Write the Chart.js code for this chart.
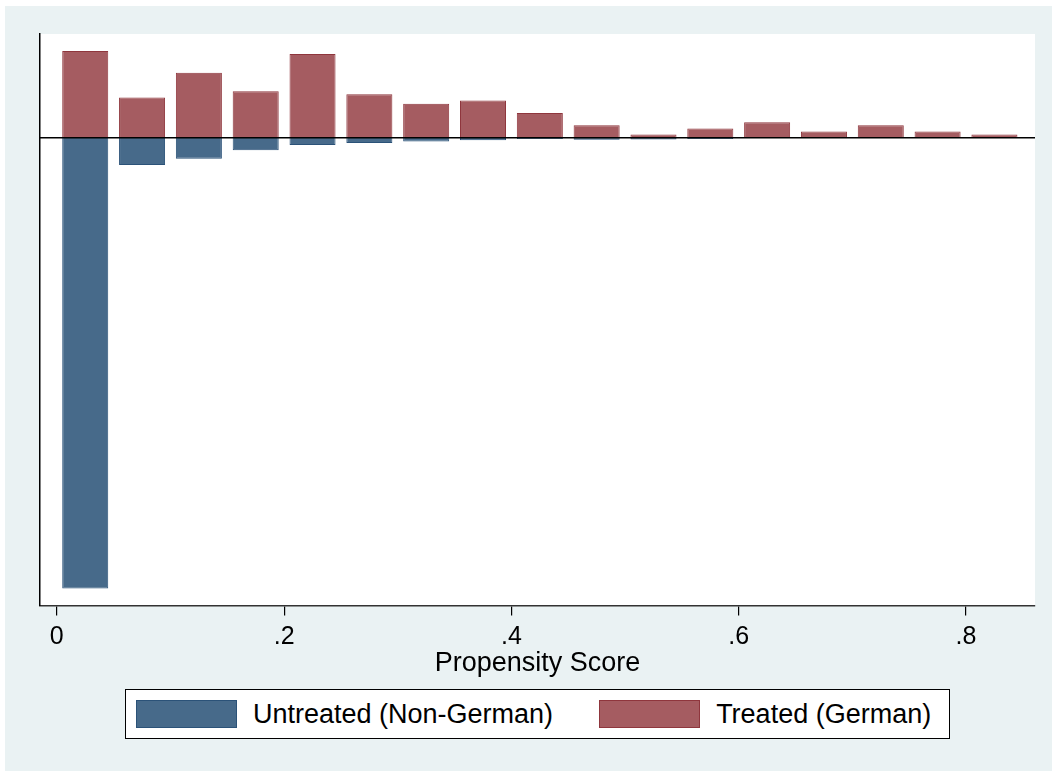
<!DOCTYPE html>
<html>
<head>
<meta charset="utf-8">
<script src="https://cdn.jsdelivr.net/npm/chart.js@4.4.1/dist/chart.umd.min.js"></script>
<style>
    body { margin: 0; background: #fff; font-family: "Liberation Sans", Arial, sans-serif; }
    #frame { position: absolute; left: 5px; top: 6px; width: 1047px; height: 765px; background: #EAF2F3; }
    #frame canvas { position: absolute; left: 0; top: 0; }
    #legend {
        position: absolute; left: 120px; top: 683px; width: 825px; height: 50px;
        box-sizing: border-box; border: 1px solid #000; background: #fff;
        display: flex; align-items: center;
    }
    .swatch { width: 101px; height: 28px; box-sizing: border-box; border: 1px solid; flex: none; }
    .label { font-size: 27px; color: #000; white-space: nowrap; margin-left: 16px; }
</style>
</head>
<body>
<div id="frame">
    <canvas id="psChart" width="1047" height="765"></canvas>
    <div id="legend"></div>
</div>
<script>
// bin midpoints of the propensity score histogram (width .05)
const binCenters = [0.025, 0.075, 0.125, 0.175, 0.225, 0.275, 0.325, 0.375, 0.425,
                    0.475, 0.525, 0.575, 0.625, 0.675, 0.725, 0.775, 0.825];
// bar heights, same unit for both groups (untreated drawn below zero)
const treatedFreq   = [28, 13, 21, 15, 27, 14, 11, 12, 8, 4, 1, 3, 5, 2, 4, 2, 1];
const untreatedFreq = [145.7, 8.8, 6.8, 4.1, 2.4, 1.75, 1.2, 0.8, 0.45, 0.65, 0.55, 0.45, 0, 0, 0, 0, 0];
const xTickValues = [0, 0.2, 0.4, 0.6, 0.8];
const xTickLabels = ['0', '.2', '.4', '.6', '.8'];
const seriesLabels = ['Untreated (Non-German)', 'Treated (German)'];

const FONT = '"Liberation Sans", Arial, sans-serif';

// white plot region + zero line on top of the bars
const plotDecor = {
    id: 'plotDecor',
    beforeDraw(chart) {
        const a = chart.chartArea;
        chart.ctx.save();
        chart.ctx.fillStyle = '#fff';
        chart.ctx.fillRect(a.left, a.top, a.right - a.left, a.bottom - a.top);
        chart.ctx.restore();
    },
    afterDatasetsDraw(chart) {
        const a = chart.chartArea;
        const y0 = chart.scales.y.getPixelForValue(0);
        const ctx = chart.ctx;
        ctx.save();
        ctx.strokeStyle = '#000';
        ctx.lineWidth = 1.5;
        ctx.beginPath();
        ctx.moveTo(a.left, y0);
        ctx.lineTo(a.right, y0);
        ctx.stroke();
        ctx.restore();
    }
};

const colors = [
    { fill: '#476A8A', line: '#2B5278' },
    { fill: '#A55C61', line: '#8F363D' }
];

const chart = new Chart(document.getElementById('psChart'), {
    type: 'bar',
    data: {
        datasets: [
            {
                label: seriesLabels[0],
                data: binCenters.map((x, i) => ({ x: x, y: -untreatedFreq[i] })),
                backgroundColor: colors[0].fill,
                borderColor: colors[0].line,
                borderWidth: 1,
                grouped: false,
                barPercentage: 0.81,
                categoryPercentage: 1
            },
            {
                label: seriesLabels[1],
                data: binCenters.map((x, i) => ({ x: x, y: treatedFreq[i] })),
                backgroundColor: colors[1].fill,
                borderColor: colors[1].line,
                borderWidth: 1,
                grouped: false,
                barPercentage: 0.81,
                categoryPercentage: 1
            }
        ]
    },
    options: {
        responsive: false,
        animation: false,
        devicePixelRatio: 1,
        layout: { padding: { left: 35, right: 17, top: 28, bottom: 91 } },
        plugins: {
            legend: { display: false },
            tooltip: { enabled: false }
        },
        scales: {
            x: {
                type: 'linear',
                min: -0.0148,
                max: 0.8607,
                offset: false,
                border: { color: '#333', width: 1.5 },
                grid: { offset: false, drawOnChartArea: false, drawTicks: true, tickLength: 10, color: '#000', lineWidth: 1.2 },
                afterBuildTicks: axis => {
                    axis.ticks = xTickValues.map(v => ({ value: v }));
                },
                ticks: {
                    color: '#000',
                    padding: 9,
                    maxRotation: 0,
                    font: { family: FONT, size: 25, lineHeight: 1 },
                    callback: (value, index) => xTickLabels[index]
                },
                title: {
                    display: true,
                    text: 'Propensity Score',
                    color: '#000',
                    font: { family: FONT, size: 27 },
                    padding: { top: -11, bottom: 0 }
                }
            },
            y: {
                min: -151.2,
                max: 33.5,
                border: { color: '#000', width: 1.5 },
                grid: { display: false, drawTicks: false },
                ticks: { display: false }
            }
        }
    },
    plugins: [plotDecor]
});

// legend box below the axis title
const legendEl = document.getElementById('legend');
chart.data.datasets.forEach((ds, i) => {
    const sw = document.createElement('div');
    sw.className = 'swatch';
    sw.style.background = ds.backgroundColor;
    sw.style.borderColor = ds.borderColor;
    sw.style.marginLeft = i === 0 ? '10px' : '46px';
    const txt = document.createElement('span');
    txt.className = 'label';
    txt.textContent = ds.label;
    legendEl.appendChild(sw);
    legendEl.appendChild(txt);
});
</script>
</body>
</html>
